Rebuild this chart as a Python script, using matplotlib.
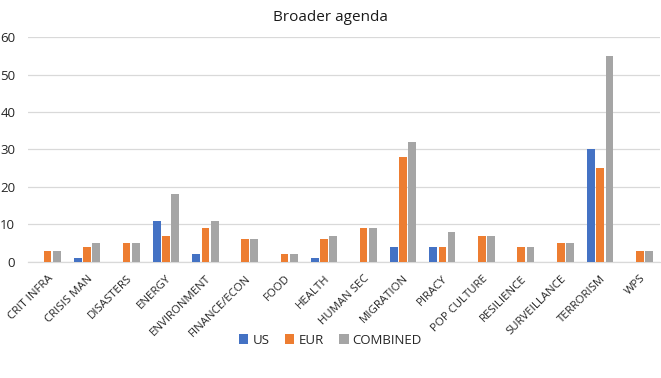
import matplotlib.pyplot as plt
import numpy as np

# Broader agenda counts per topic
categories = ["CRIT INFRA", "CRISIS MAN", "DISASTERS", "ENERGY", "ENVIRONMENT",
              "FINANCE/ECON", "FOOD", "HEALTH", "HUMAN SEC", "MIGRATION", "PIRACY",
              "POP CULTURE", "RESILIENCE", "SURVEILLANCE", "TERRORISM", "WPS"]
us = [0, 1, 0, 11, 2, 0, 0, 1, 0, 4, 4, 0, 0, 0, 30, 0]
eur = [3, 4, 5, 7, 9, 6, 2, 6, 9, 28, 4, 7, 4, 5, 25, 3]
combined = [3, 5, 5, 18, 11, 6, 2, 7, 9, 32, 8, 7, 4, 5, 55, 3]
series_names = ["US", "EUR", "COMBINED"]
yticks = [0, 10, 20, 30, 40, 50, 60]

colors = ["#4472C4", "#ED7D31", "#A5A5A5"]
plt.rcParams['font.family'] = ['Open Sans', 'DejaVu Sans']

fig = plt.figure(figsize=(6.61, 3.78), dpi=100)
ax = fig.add_axes([0.042, 0.307, 0.956, 0.595])

x = np.arange(len(categories))
w = 0.2
step = 0.23
for i, (vals, name) in enumerate(zip([us, eur, combined], series_names)):
    ax.bar(x + (i - 1) * step, vals, width=w, color=colors[i], label=name, zorder=3)

ax.set_xlim(-0.5, len(categories) - 0.5)
ax.set_ylim(0, 60)
ax.set_yticks(yticks)
ax.yaxis.grid(True, color="#D9D9D9", linewidth=0.9, zorder=0)
for s in ["top", "right", "left"]:
    ax.spines[s].set_visible(False)
ax.spines["bottom"].set_color("#D9D9D9")
ax.spines["bottom"].set_linewidth(0.9)
ax.tick_params(axis="both", length=0, labelsize=9.5, colors="#262626")
ax.set_xticks(x)
ax.set_xticklabels(categories, rotation=45, ha="right", rotation_mode="anchor", fontsize=8.2)
ax.tick_params(axis="x", pad=8)
ax.tick_params(axis="y", pad=9)

fig.text(0.5, 0.955, "Broader agenda", ha="center", va="center", fontsize=11, color="#1a1a1a")
fig.legend(loc="center", bbox_to_anchor=(0.5, 0.1), ncol=3, frameon=False, fontsize=9.5,
           handlelength=0.7, handleheight=0.7, handletextpad=0.3, columnspacing=1.2,
           labelcolor="#262626")

plt.savefig("out.png", dpi=100)
